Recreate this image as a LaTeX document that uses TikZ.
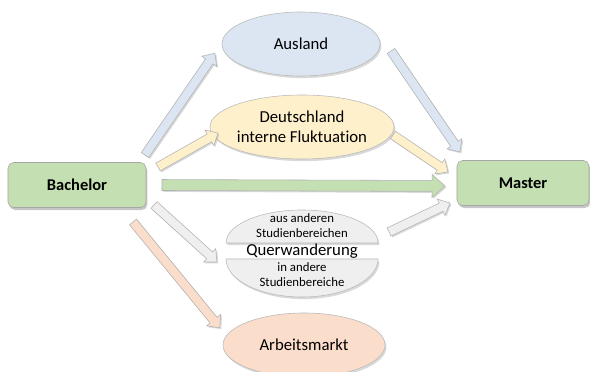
\documentclass[tikz,border=0pt]{standalone}
\usepackage{fontspec}
\setmainfont[Ligatures=NoCommon]{Carlito}
\usepackage{tikz}
\usetikzlibrary{positioning,shapes,shadows,calc}

\definecolor{boxgreen}{HTML}{C4DFB2}
\definecolor{ausblue}{HTML}{DCE6F2}
\definecolor{deyellow}{HTML}{FFF0CC}
\definecolor{quergray}{HTML}{EFEFEF}
\definecolor{arbsalmon}{HTML}{FADDCB}

\tikzset{
  box/.style={rectangle, rounded corners=4pt, draw=gray!70, fill=boxgreen, minimum height=1.125cm,
    font=\fontsize{11.7}{14}\selectfont\bfseries,
    drop shadow={opacity=0.45, shadow xshift=1pt, shadow yshift=-1.8pt}},
  region/.style={ellipse, draw=gray!55, align=center, inner sep=0pt, minimum width=3.95cm, minimum height=1.6cm,
    font=\fontsize{11.9}{14.2}\selectfont,
    drop shadow={opacity=0.3, shadow xshift=1pt, shadow yshift=-1.5pt}},
  halfcap/.style={draw=gray!55, fill=quergray, drop shadow={opacity=0.3, shadow xshift=1pt, shadow yshift=-1.5pt}},
  smalltext/.style={align=center, inner sep=0pt, font=\fontsize{9.1}{10.6}\selectfont},
  arrowbox/.style={draw=gray!60, line width=0.4pt, drop shadow={opacity=0.3, shadow xshift=1pt, shadow yshift=-1pt}}
}

\newcommand{\blockarrow}[6][]{%
  \draw[arrowbox,#1] let \p1=(#2), \p2=(#3),
    \n1={atan2(\y2-\y1,\x2-\x1)}, \n2={veclen(\x2-\x1,\y2-\y1)} in
    [shift={(\p1)}, rotate=\n1]
    (0pt,-#4) -- (\n2-#6,-#4) -- (\n2-#6,-#5) -- (\n2,0pt)
    -- (\n2-#6,#5) -- (\n2-#6,#4) -- (0pt,#4) -- cycle;}

\begin{document}
\begin{tikzpicture}[x=0.025cm, y=-0.025cm]
\useasboundingbox (0,0) rectangle (590,372);

\node[box, minimum width=3.45cm] (bachelor) at (77,185) {Bachelor};
\node[box, minimum width=3.3cm] (master) at (523,183) {Master};

\node[region, fill=ausblue] (ausland) at (301,44) {Ausland};
\node[region, fill=deyellow] (deutschland) at (302,127) {Deutschland\\interne Fluktuation};
\node[region, fill=arbsalmon, minimum width=4.05cm] (arbeitsmarkt) at (304,345) {Arbeitsmarkt};

% Querwanderung
\draw[halfcap] (226,243) arc[start angle=180, end angle=0, x radius=1.9cm, y radius=0.825cm] -- cycle;
\draw[halfcap] (226,259) arc[start angle=180, end angle=360, x radius=1.9cm, y radius=0.95cm] -- cycle;
\node[smalltext] (quertop) at (302,226) {aus anderen\\Studienbereichen};
\node[font=\fontsize{11.9}{14.2}\selectfont, inner sep=0pt] (quer) at (302,251) {Querwanderung};
\node[smalltext] (querbot) at (302,275) {in andere\\Studienbereiche};

\coordinate (bach-aus) at (145,155);   \coordinate (aus-in) at (215,53);
\coordinate (bach-de) at (158,167);    \coordinate (de-in) at (218,133);
\coordinate (bach-ma) at (162,185);    \coordinate (ma-in) at (445,186);
\coordinate (aus-out) at (391,51);     \coordinate (ma-aus) at (460,152);
\coordinate (de-out) at (393,135);     \coordinate (ma-de) at (448,172);
\coordinate (quer-out) at (389,232);   \coordinate (ma-quer) at (450,203);
\coordinate (bach-quer) at (154,205);  \coordinate (quer-in) at (217,262);
\coordinate (bach-arb) at (133,222);   \coordinate (arb-in) at (220,328);

\blockarrow[fill=ausblue]{bach-aus}{aus-in}{3.2pt}{6.4pt}{7pt}
\blockarrow[fill=deyellow]{bach-de}{de-in}{3.2pt}{6.4pt}{7pt}
\blockarrow[fill=boxgreen]{bach-ma}{ma-in}{3.9pt}{8.2pt}{9.2pt}
\blockarrow[fill=ausblue]{aus-out}{ma-aus}{3.2pt}{6.4pt}{7pt}
\blockarrow[fill=deyellow]{de-out}{ma-de}{3.2pt}{6.4pt}{7pt}
\blockarrow[fill=quergray]{quer-out}{ma-quer}{3.2pt}{6.4pt}{7pt}
\blockarrow[fill=quergray]{bach-quer}{quer-in}{3.2pt}{6.4pt}{7pt}
\blockarrow[fill=arbsalmon]{bach-arb}{arb-in}{3.2pt}{6.4pt}{7pt}
\end{tikzpicture}
\end{document}
